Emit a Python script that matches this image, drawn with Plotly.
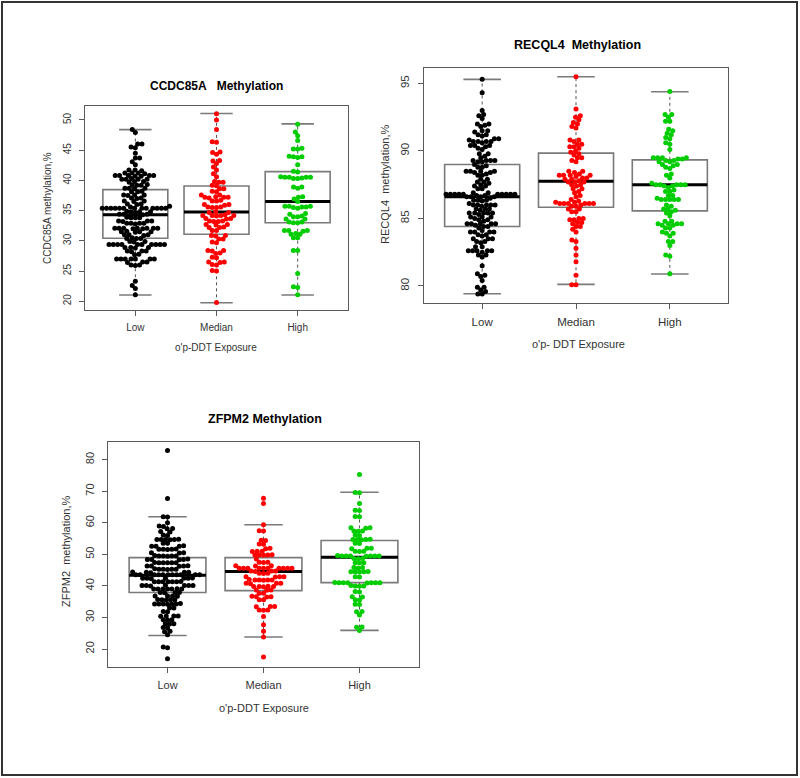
import math
import plotly.graph_objects as go

W, H = 800, 778

groups = ["Low", "Median", "High"]
group_pos = [1, 2, 3]
colors = ["#000000", "#ff0000", "#00cd00"]

# ---------------- CCDC85A ----------------
ccdc_low = [
    48.4, 47.9, 46.0, 46.0, 45.5, 45.4, 44.5, 43.7, 43.7, 43.1, 42.6,
    41.7, 41.7, 41.6, 41.2, 41.2, 41.1, 41.2,
    40.8, 40.8, 40.7, 40.8, 40.8, 40.7, 40.8, 40.2, 40.2, 40.3, 40.2, 40.2,
    39.8, 39.8, 39.7, 39.2, 39.2, 39.3, 39.2, 38.7, 38.7, 38.6, 38.7,
    38.1, 38.1, 38.2, 37.6, 37.6, 37.5, 37.6, 37.1, 37.1, 37.0,
    36.6, 36.6, 36.5, 36.1, 36.1, 36.0, 35.6, 35.7,
    35.4, 35.4, 35.4, 35.4, 35.4, 35.4, 35.4, 35.4, 35.4, 35.4, 35.4, 35.4, 35.4,
    34.8, 34.8, 34.9, 34.8, 34.7, 34.4, 34.4, 34.3, 34.4,
    33.8, 33.8, 33.9, 33.8, 33.3, 33.3, 33.2, 33.3,
    32.9, 32.9, 32.8, 32.9, 32.9,
    32.1, 32.1, 32.0, 32.1, 32.1, 32.1, 32.0, 32.1, 32.1,
    31.5, 31.5, 31.6, 31.5, 31.4, 31.0, 31.0, 30.9, 31.0,
    30.4, 30.4, 30.5, 30.4, 29.9, 29.9, 29.8,
    29.4, 29.4, 29.4, 29.4, 29.4, 29.4, 29.4, 29.4, 29.4, 29.4,
    28.9, 28.9, 28.8, 28.9, 28.3, 28.3, 28.2, 28.3, 27.8, 27.7,
    27.0, 27.0, 27.0, 27.0, 27.0, 27.0, 27.0, 26.5, 26.5, 26.4, 26.0, 26.0, 25.9,
    23.3, 22.6, 22.1, 21.1,
]
ccdc_median = [
    51.0, 50.0, 48.4, 46.4, 46.3, 44.7, 44.6, 44.3, 43.3, 43.2, 42.8, 42.2,
    41.7, 41.1, 40.6, 39.8, 39.7, 39.7, 39.2, 39.1, 38.6, 38.6, 38.2, 38.1,
    37.6, 37.6, 37.2, 37.2, 37.1, 37.2, 37.3, 36.7, 36.6, 36.6, 36.0, 36.0, 35.9,
    35.5, 35.6, 35.5, 35.6, 34.7, 34.7, 34.8, 34.2, 34.2, 34.3, 34.2, 34.1, 34.2,
    33.7, 33.7, 33.6, 33.2, 33.3, 33.2, 33.3, 32.7, 32.7, 32.6,
    32.2, 32.3, 32.2, 31.7, 31.7, 30.9, 30.8, 30.9, 30.3, 30.3, 29.8, 29.7,
    28.4, 28.4, 28.3, 28.0, 27.9, 27.3, 27.2, 26.5, 26.5, 26.4, 26.1, 26.0, 25.1, 25.0,
    19.8,
]
ccdc_high = [
    49.3, 48.0, 47.4, 46.6, 45.3, 45.2, 45.2, 44.0, 43.9, 43.8, 43.9, 42.6, 41.5, 41.4,
    40.5, 40.5, 40.6, 40.4, 40.5, 40.5, 40.3, 40.3, 38.9, 38.9, 38.7, 37.3, 37.2, 36.9,
    36.5, 35.7, 35.7, 35.6, 35.7, 35.6, 35.4, 35.5, 34.5, 34.4, 34.0, 34.1, 34.0, 33.6,
    33.6, 33.1, 33.0, 33.1, 33.0, 31.7, 31.7, 31.6, 31.7, 31.2, 31.1, 31.1, 30.5, 30.5,
    28.4, 28.4, 24.6, 22.4, 22.3, 21.1,
]
ccdc_q1 = [30.42, 31.08, 33.0]
ccdc_med = [34.33, 34.78, 36.49]
ccdc_q3 = [38.47, 39.08, 41.45]
ccdc_lo = [21.04, 19.77, 21.04]
ccdc_hi = [48.4, 51.05, 49.34]

# ---------------- RECQL4 ----------------
recq_low = [
    95.3, 94.3, 93.0, 92.7, 92.6, 92.4, 92.0, 92.0, 91.9, 91.8, 91.5, 91.5,
    91.4, 91.2, 91.2, 91.1, 90.9, 90.9, 90.8, 90.7, 90.7, 90.7, 90.6,
    90.7, 90.4, 90.4, 90.4, 90.3, 90.2, 90.1, 89.8, 89.8, 89.5,
    89.6, 89.3, 89.3, 89.2, 89.3, 89.3, 89.2, 89.0, 88.9, 88.8, 88.8, 88.5, 88.5,
    88.4, 88.5, 88.5, 88.4, 88.2, 88.3, 88.2, 87.9, 87.9, 87.7, 87.7, 87.6,
    87.4, 87.5, 87.4, 87.2, 87.2,
    86.8, 86.8, 86.9, 86.8, 86.8, 86.7, 86.8, 86.8, 86.9, 86.8, 86.8, 86.7, 86.8, 86.8,
    86.6, 86.6, 86.5, 86.6, 86.6, 86.35, 86.35, 86.3, 86.35,
    86.0, 86.0, 86.0, 85.9, 86.0, 86.0, 86.1, 85.7, 85.7, 85.7, 85.6,
    85.4, 85.4, 85.4, 85.3, 85.4, 85.4, 85.1, 85.1, 85.0, 85.1,
    84.9, 84.9, 84.8, 84.6, 84.6, 84.6, 84.5, 84.6, 84.6, 84.4, 84.4, 84.3,
    84.0, 84.0, 84.1, 84.0, 84.0, 83.8, 83.8, 83.7, 83.5, 83.5, 83.5,
    83.3, 83.3, 83.2, 82.9, 82.9, 82.6, 82.6, 82.6, 82.5, 82.6, 82.6,
    82.3, 82.3, 82.15, 81.5, 80.9, 80.8, 80.7, 80.4, 79.9, 79.9, 79.7, 79.6,
    79.4, 79.4,
]
recq_median = [
    95.5, 93.1, 92.6, 92.5, 92.3, 92.1, 92.0, 91.8, 91.7,
    90.8, 90.7, 90.8, 90.5, 90.5, 90.3, 90.2, 90.3, 90.0, 89.9,
    89.8, 89.7, 89.5, 89.5, 89.3, 89.2,
    88.5, 88.5, 88.4, 88.2, 88.2, 88.3, 88.2, 88.1, 88.2, 88.0, 88.0, 87.9,
    87.9, 87.7, 87.7, 87.8, 87.7, 87.5, 87.5, 87.4, 87.2, 87.2,
    86.9, 87.0, 86.7, 86.6, 86.4, 86.3,
    86.1, 86.1, 86.2, 86.1, 86.1, 86.1, 86.2, 86.1, 85.9, 85.9, 86.0, 85.7,
    85.7, 85.5, 85.5,
    85.0, 84.9, 85.0, 84.9, 84.7, 84.7, 84.6, 84.4, 84.4, 84.2, 84.0,
    83.3, 83.4, 82.8, 82.3, 81.8, 80.8, 80.1, 80.1,
]
recq_high = [
    94.4, 92.7, 92.7, 92.5, 92.2, 92.2, 91.6, 91.5, 91.3, 91.2, 91.0, 90.9, 90.6, 90.5,
    90.1, 89.5, 89.5, 89.4, 89.5, 89.5, 89.4, 89.3, 89.2, 89.2, 89.3, 89.0, 89.0,
    88.9, 88.8, 88.7, 88.3, 88.2, 88.0,
    87.5, 87.5, 87.6, 87.5, 87.5, 87.5, 87.4, 87.4, 87.3, 87.0, 87.0, 87.1,
    86.7, 86.7, 86.4, 86.4, 86.5, 86.4, 86.4, 86.4, 86.0, 85.9, 85.7, 85.7, 85.6,
    85.4, 85.5, 85.2,
    84.8, 84.8, 84.6, 84.6, 84.5, 84.6, 84.5, 84.6, 84.3, 84.3, 83.9, 83.9, 84.0,
    83.7, 83.3, 83.3, 83.0, 82.3, 82.2, 80.9,
]
recq_q1 = [84.4, 85.83, 85.56]
recq_med = [86.6, 87.76, 87.49]
recq_q3 = [89.0, 89.84, 89.34]
recq_lo = [79.43, 80.12, 80.89]
recq_hi = [95.3, 95.49, 94.38]

# ---------------- ZFPM2 ----------------
zfpm_low = [
    82.9, 67.7, 61.9, 61.8, 60.0, 59.0, 58.8, 58.1, 58.2, 57.1, 57.2, 56.1, 56.0,
    54.7, 54.7, 54.6, 54.7, 54.8, 54.7, 53.5, 53.5,
    52.6, 52.6, 52.7, 52.6, 51.6, 51.6, 51.5, 51.6, 51.7,
    50.5, 50.5, 50.4, 49.5, 49.5, 49.4, 49.5, 49.6, 49.5,
    48.4, 48.4, 48.3, 48.4, 48.5,
    47.35, 47.35, 47.3, 47.4, 47.35, 47.35,
    46.3, 46.3, 46.2, 46.3, 46.4, 45.3, 45.3, 45.2, 45.3, 45.4, 45.3,
    44.3, 44.3, 44.2, 44.3, 44.4,
    43.5, 43.5, 43.5, 43.5, 43.5, 43.5, 43.5, 43.5, 43.5, 43.5, 43.5,
    42.4, 42.4, 42.3, 42.4, 42.5, 42.4, 42.4,
    41.35, 41.35, 41.3, 41.4, 41.35, 41.35, 41.3,
    40.1, 40.1, 40.0, 40.1, 40.2, 40.1, 40.1,
    39.05, 39.05, 39.0, 39.1, 39.05, 39.05, 39.0,
    37.9, 37.9, 37.8, 37.9, 36.8, 36.8, 36.7, 36.8,
    35.6, 35.6, 35.5, 35.6, 35.7, 34.3, 34.3, 34.2, 34.3, 34.4, 34.3, 34.3,
    33.0, 33.0, 31.9, 31.8, 30.5, 30.5, 30.4, 30.5, 29.3, 29.3, 29.2,
    28.0, 28.0, 27.9, 26.8, 26.7, 25.6, 25.5, 24.5, 20.6, 20.4, 16.9,
]
zfpm_median = [
    67.8, 66.1, 59.4, 57.5, 57.4, 54.5, 54.4, 53.3, 53.2, 51.9, 51.8, 51.0, 51.0,
    50.9, 49.8, 49.8, 49.7, 49.8, 49.9, 48.5, 47.5, 47.5, 47.4,
    46.4, 46.4, 46.3,
    45.6, 45.6, 45.6, 45.6, 45.6, 45.6, 45.6, 45.6, 45.6, 45.6,
    44.7, 44.7, 44.6, 44.7, 44.0, 44.0, 43.9,
    42.9, 42.9, 42.8, 42.9, 41.9, 41.9, 41.8, 41.9, 42.0, 41.9,
    40.8, 40.8, 40.7, 40.8, 39.8, 39.8, 39.7, 39.8, 39.9,
    38.7, 38.7, 38.6, 37.7, 37.7, 36.6, 36.6, 36.5, 36.7, 35.6, 35.6,
    33.5, 33.5, 33.4, 32.4, 32.4, 32.3, 30.3, 27.7, 25.6, 23.8, 17.5,
]
zfpm_high = [
    75.3, 69.6, 69.5, 66.1, 64.0, 63.9, 61.9, 62.0, 58.4, 58.4, 58.3, 57.4, 57.4, 57.3,
    56.1, 56.0, 54.7, 54.7, 54.6, 54.7, 54.8, 53.5, 53.4, 51.9, 51.9, 51.8, 51.0, 51.0,
    50.9, 49.5, 49.5, 49.4, 49.5, 49.6, 49.5, 49.5, 49.5, 48.7, 48.7, 48.6,
    47.35, 47.35, 47.3, 45.8, 45.8, 45.7, 44.5, 44.5, 44.4, 44.5, 44.6, 42.9, 42.8,
    41.0, 41.0, 40.9, 41.0, 41.1, 41.0, 41.0, 41.0, 40.0, 40.0, 39.9, 40.1,
    38.2, 38.1, 36.6, 36.5, 35.6, 35.5, 34.2, 34.1, 31.9, 31.8, 30.8, 27.0, 26.9, 25.9,
]
zfpm_q1 = [37.9, 38.5, 41.05]
zfpm_med = [43.37, 44.6, 49.05]
zfpm_q3 = [48.95, 48.95, 54.4]
zfpm_lo = [24.3, 23.8, 25.9]
zfpm_hi = [61.9, 59.4, 69.7]

# ---------------- layout geometry (pixels) ----------------
panels = [
    dict(name="1", data=[ccdc_low, ccdc_median, ccdc_high],
         q1=ccdc_q1, med=ccdc_med, q3=ccdc_q3, lo=ccdc_lo, hi=ccdc_hi,
         px=(85, 348), py=(106, 310), yrange=(18.56, 52.3), ticks=[20, 25, 30, 35, 40, 45, 50],
         fs=10, title="CCDC85A\u00a0\u00a0\u00a0Methylation", tpos=(216, 86), tfs=12,
         ytitle="CCDC85A methylation,%", ytpos=(48, 208), xtitle="o'p-DDT Exposure", xtpos=(216, 347), afs=10),
    dict(name="2", data=[recq_low, recq_median, recq_high],
         q1=recq_q1, med=recq_med, q3=recq_q3, lo=recq_lo, hi=recq_hi,
         px=(424, 728), py=(68, 303), yrange=(78.74, 96.14), ticks=[80, 85, 90, 95],
         fs=11.5, title="RECQL4\u00a0\u00a0Methylation", tpos=(577, 45), tfs=12.5,
         ytitle="RECQL4\u00a0\u00a0methylation,%", ytpos=(385, 185), xtitle="o'p- DDT Exposure", xtpos=(578, 344), afs=11),
    dict(name="3", data=[zfpm_low, zfpm_median, zfpm_high],
         q1=zfpm_q1, med=zfpm_med, q3=zfpm_q3, lo=zfpm_lo, hi=zfpm_hi,
         px=(108, 419), py=(442, 667), yrange=(14.3, 85.6), ticks=[20, 30, 40, 50, 60, 70, 80],
         fs=11, title="ZFPM2 Methylation", tpos=(265, 419), tfs=12.5,
         ytitle="ZFPM2\u00a0\u00a0methylation,%", ytpos=(66, 552), xtitle="o'p-DDT Exposure", xtpos=(264, 708), afs=11),
]

XR = (0.38, 3.62)
DOT = 4.3  # swarm spacing in px


def swarm(values, ypx, d):
    order = sorted(range(len(values)), key=lambda i: values[i])
    placed = []
    offs = [0.0] * len(values)
    for i in order:
        y = values[i] * ypx
        near = [(px, py) for px, py in placed if abs(py - y) < d]
        cands = [0.0]
        for px, py in near:
            dx = math.sqrt(max(d * d - (py - y) ** 2, 0.0))
            cands += [px + dx, px - dx]
        cands.sort(key=lambda c: (round(abs(c), 6), c))
        for c in cands:
            if all((c - px) ** 2 + (y - py) ** 2 >= d * d - 1e-6 for px, py in near):
                offs[i] = c
                placed.append((c, y))
                break
    return offs


FONT = "Liberation Sans, Arial, sans-serif"
fig = go.Figure()
annotations = []
layout_axes = {}

for p in panels:
    n = p["name"]
    xa = "x" if n == "1" else "x" + n
    ya = "y" if n == "1" else "y" + n
    xpx_per = (p["px"][1] - p["px"][0]) / (XR[1] - XR[0])
    ypx_per = (p["py"][1] - p["py"][0]) / (p["yrange"][1] - p["yrange"][0])
    for gi in range(3):
        c = group_pos[gi]
        fig.add_trace(go.Box(
            x=[c], q1=[p["q1"][gi]], median=[p["med"][gi]], q3=[p["q3"][gi]],
            lowerfence=[p["q1"][gi]], upperfence=[p["q3"][gi]], width=0.8,
            fillcolor="rgba(255,255,255,0)", line=dict(color="#7a7a7a", width=1.6),
            whiskerwidth=0, boxpoints=False, hoverinfo="skip", showlegend=False,
            xaxis=xa, yaxis=ya))
        fig.add_trace(go.Scatter(
            x=[c, c, None, c, c], y=[p["q3"][gi], p["hi"][gi], None, p["q1"][gi], p["lo"][gi]],
            mode="lines", line=dict(color="#555555", width=1, dash="3px,3px"),
            hoverinfo="skip", showlegend=False, xaxis=xa, yaxis=ya))
        fig.add_trace(go.Scatter(
            x=[c - 0.2, c + 0.2, None, c - 0.2, c + 0.2],
            y=[p["hi"][gi], p["hi"][gi], None, p["lo"][gi], p["lo"][gi]],
            mode="lines", line=dict(color="#7a7a7a", width=1.6),
            hoverinfo="skip", showlegend=False, xaxis=xa, yaxis=ya))
        fig.add_trace(go.Scatter(
            x=[c - 0.4, c + 0.4], y=[p["med"][gi], p["med"][gi]],
            mode="lines", line=dict(color="#000000", width=3),
            hoverinfo="skip", showlegend=False, xaxis=xa, yaxis=ya))
        vals = p["data"][gi]
        offs = swarm(vals, ypx_per, DOT)
        fig.add_trace(go.Scatter(
            x=[c + o / xpx_per for o in offs], y=vals, mode="markers",
            marker=dict(color=colors[gi], size=5, line=dict(width=0)),
            name=groups[gi], showlegend=False, xaxis=xa, yaxis=ya))

    axkey = "xaxis" if n == "1" else "xaxis" + n
    aykey = "yaxis" if n == "1" else "yaxis" + n
    layout_axes[axkey] = dict(
        domain=[p["px"][0] / W, p["px"][1] / W], anchor=ya, range=list(XR),
        tickmode="array", tickvals=group_pos, ticktext=groups,
        showline=True, mirror=True, linecolor="#5a5a5a", linewidth=1.2,
        ticks="outside", ticklen=5, tickcolor="#5a5a5a", showgrid=False, zeroline=False,
        tickfont=dict(family=FONT, size=p["fs"], color="#333333"), ticklabelstandoff=3)
    layout_axes[aykey] = dict(
        domain=[1 - p["py"][1] / H, 1 - p["py"][0] / H], anchor=xa, range=list(p["yrange"]),
        tickmode="array", tickvals=p["ticks"], tickangle=-90,
        showline=True, mirror=True, linecolor="#5a5a5a", linewidth=1.2,
        ticks="outside", ticklen=5, tickcolor="#5a5a5a", showgrid=False, zeroline=False,
        tickfont=dict(family=FONT, size=p["fs"], color="#333333"), ticklabelstandoff=4)

    annotations.append(dict(text="<b>%s</b>" % p["title"], x=p["tpos"][0] / W, y=1 - p["tpos"][1] / H,
                            xref="paper", yref="paper", showarrow=False, xanchor="center", yanchor="middle",
                            font=dict(family=FONT, size=p["tfs"], color="#000000")))
    annotations.append(dict(text=p["ytitle"], x=p["ytpos"][0] / W, y=1 - p["ytpos"][1] / H, textangle=-90,
                            xref="paper", yref="paper", showarrow=False, xanchor="center", yanchor="middle",
                            font=dict(family=FONT, size=p["afs"], color="#333333")))
    annotations.append(dict(text=p["xtitle"], x=p["xtpos"][0] / W, y=1 - p["xtpos"][1] / H,
                            xref="paper", yref="paper", showarrow=False, xanchor="center", yanchor="middle",
                            font=dict(family=FONT, size=p["afs"], color="#333333")))

fig.update_layout(
    width=W, height=H, margin=dict(l=0, r=0, t=0, b=0),
    paper_bgcolor="#ffffff", plot_bgcolor="#ffffff", boxmode="overlay",
    showlegend=False, annotations=annotations,
    shapes=[dict(type="rect", xref="paper", yref="paper", x0=2 / W, x1=797 / W,
                 y0=1 - 775 / H, y1=1 - 2 / H, line=dict(color="#333333", width=2))],
    **layout_axes)

fig.write_html("out.html", config={"displayModeBar": False},
               post_script="document.body.style.margin='0px';")
